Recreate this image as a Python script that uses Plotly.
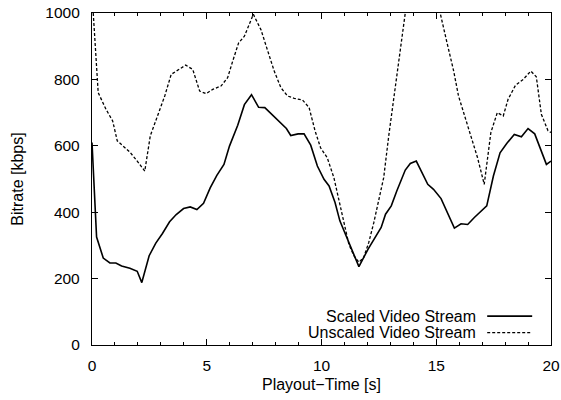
import plotly.graph_objects as go

# Scaled video stream bitrate over playout time
scaled_t = [0.0, 0.2, 0.49, 0.78, 1.04, 1.29, 1.65, 1.97, 2.17, 2.49, 2.78, 3.07, 3.38,
            3.67, 3.99, 4.28, 4.57, 4.86, 5.15, 5.44, 5.75, 5.99, 6.35, 6.64, 6.95,
            7.26, 7.53, 7.87, 8.18, 8.47, 8.66, 8.98, 9.24, 9.53, 9.82, 10.11, 10.33,
            10.59, 10.8, 11.09, 11.41, 11.63, 12.03, 12.35, 12.6, 12.79, 13.04, 13.28,
            13.65, 13.87, 14.13, 14.63, 14.88, 15.21, 15.5, 15.79, 16.08, 16.37, 16.66,
            16.95, 17.2, 17.49, 17.78, 18.07, 18.4, 18.71, 19.0, 19.29, 19.55, 19.8, 20.0]
scaled_kbps = [610, 325, 262, 247, 247, 238, 231, 222, 188, 269, 307, 336, 371,
               393, 411, 416, 408, 427, 473, 511, 544, 599, 662, 724, 754,
               716, 715, 692, 670, 652, 631, 636, 636, 602, 539, 499, 479,
               429, 374, 324, 269, 236, 289, 327, 354, 394, 419, 464,
               527, 547, 554, 484, 469, 441, 396, 352, 365, 363, 384,
               404, 419, 509, 579, 607, 634, 627, 652, 636, 589, 544, 554]

# Unscaled video stream bitrate over playout time
unscaled_t = [0.0, 0.27, 0.61, 0.9, 1.1, 1.36, 1.65, 1.97, 2.3, 2.54, 2.83, 3.17, 3.45,
              3.77, 4.08, 4.39, 4.69, 4.97, 5.26, 5.62, 5.91, 6.13, 6.39, 6.64, 7.03,
              7.36, 7.65, 7.94, 8.23, 8.52, 8.81, 9.17, 9.46, 9.72, 9.96, 10.25, 10.54,
              10.83, 11.02, 11.19, 11.41, 11.63, 11.84, 12.06, 12.28, 12.5, 12.71, 12.93,
              13.22, 13.44, 13.65, 14.0, 14.4, 14.8, 15.17, 15.47, 15.76, 15.97, 16.25,
              16.54, 16.8, 17.09, 17.38, 17.66, 17.92, 18.13, 18.45, 18.79, 19.12, 19.36,
              19.58, 19.87, 20.0]
unscaled_kbps = [1060, 760, 710, 675, 615, 599, 581, 554, 524, 630, 685, 750, 815,
                 828, 843, 830, 765, 757, 770, 780, 805, 855, 910, 930, 996,
                 950, 890, 825, 775, 750, 743, 738, 715, 645, 594, 564, 504,
                 414, 359, 304, 269, 249, 264, 309, 369, 439, 504, 630,
                 785, 900, 1000, 1090, 1130, 1090, 1000, 910, 825, 750, 685,
                 620, 564, 484, 640, 700, 690, 740, 782, 800, 825, 808,
                 695, 645, 640]

x_ticks = [0, 5, 10, 15, 20]
y_ticks = [0, 200, 400, 600, 800, 1000]
legend_labels = ["Scaled Video Stream", "Unscaled Video Stream"]

FONT = "Liberation Sans, Arial, Helvetica, sans-serif"
TEXT = dict(family=FONT, size=16, color="black")
TICKS = dict(family=FONT, size=15.5, color="black")

fig = go.Figure()
fig.add_trace(go.Scatter(x=scaled_t, y=scaled_kbps, mode="lines",
                         line=dict(color="black", width=1.6),
                         name=legend_labels[0], showlegend=False))
fig.add_trace(go.Scatter(x=unscaled_t, y=unscaled_kbps, mode="lines",
                         line=dict(color="black", width=1.3, dash="3px,2px"),
                         name=legend_labels[1], showlegend=False))

# Key in the lower right: right-aligned labels followed by line samples
key_styles = [("solid", 1.6), ("3px,2px", 1.3)]
key_y = [0.087, 0.037]
for label, (dash, w), yk in zip(legend_labels, key_styles, key_y):
    fig.add_annotation(xref="paper", yref="paper", x=0.841, y=yk,
                       text=label, showarrow=False, xanchor="right",
                       yanchor="middle", font=TEXT)
    fig.add_shape(type="line", xref="paper", yref="paper",
                  x0=0.861, x1=0.959, y0=yk, y1=yk,
                  line=dict(color="black", width=w, dash=dash))

axis_common = dict(
    showgrid=False, zeroline=False, showline=True, linecolor="black",
    linewidth=1.3, mirror="ticks", ticks="inside", ticklen=6, tickwidth=1,
    tickcolor="black", automargin=False, tickfont=TICKS,
)

fig.update_xaxes(range=[0, 20], tickvals=x_ticks, ticklabelstandoff=6,
                 title=dict(text="Playout\u2212Time [s]", standoff=6, font=TEXT),
                 minor=dict(dtick=1, ticks="inside", ticklen=3, tickcolor="black"),
                 **axis_common)
fig.update_yaxes(range=[0, 1000], tickvals=y_ticks, ticklabelstandoff=8,
                 title=dict(text="Bitrate [kbps]", standoff=17, font=TEXT),
                 **axis_common)

fig.update_layout(
    width=561, height=400,
    margin=dict(l=92, r=10, t=13, b=55),
    plot_bgcolor="white", paper_bgcolor="white",
    font=TEXT,
    showlegend=False,
)

fig.write_html("out.html")
